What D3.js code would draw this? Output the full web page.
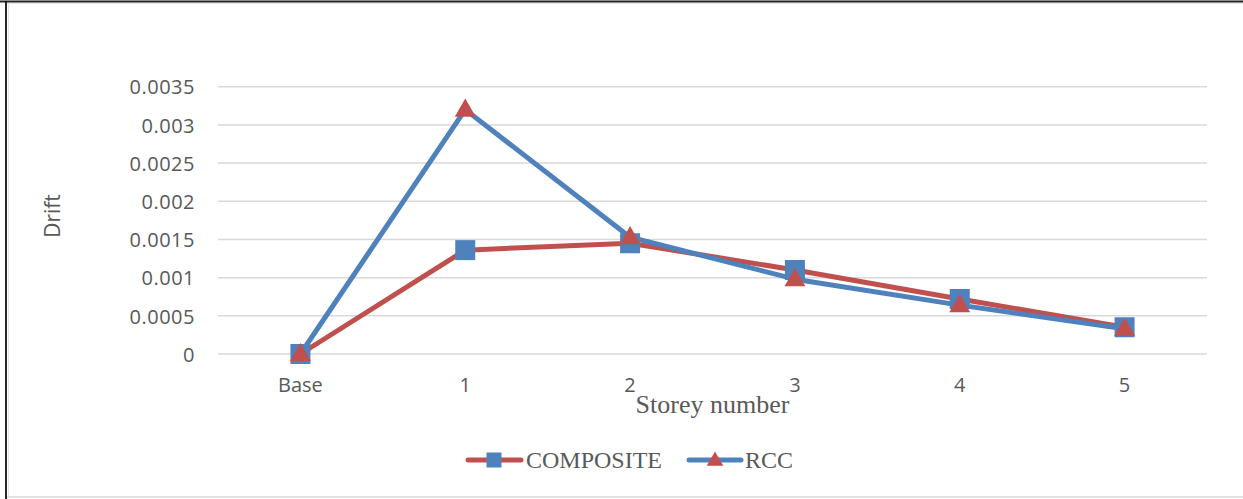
<!DOCTYPE html>
<html><head><meta charset="utf-8">
<script src="https://cdn.jsdelivr.net/npm/d3@7"></script>
<style>html,body{margin:0;padding:0;background:#fff;overflow:hidden}</style>
</head><body>
<svg id="c" width="1243" height="499"></svg>
<script>
const categories = ["Base", "1", "2", "3", "4", "5"];
const composite = [0, 0.00136, 0.00145, 0.0011, 0.00072, 0.00035];
const rcc = [0, 0.0032, 0.00153, 0.00098, 0.00064, 0.00033];
const yTicks = [0, 0.0005, 0.001, 0.0015, 0.002, 0.0025, 0.003, 0.0035];
const yTickLabels = ["0", "0.0005", "0.001", "0.0015", "0.002", "0.0025", "0.003", "0.0035"];
const seriesNames = ["COMPOSITE", "RCC"];

const blue = "#4F81BD", red = "#C0504D", txt = "#595959";
const svg = d3.select("#c");
const W = 1243, H = 499;

// outer frame
svg.append("rect").attr("x", 0).attr("y", 0).attr("width", W).attr("height", H).attr("fill", "#fff");
svg.append("line").attr("x1", 0).attr("x2", W).attr("y1", 1.5).attr("y2", 1.5).attr("stroke", "#222").attr("stroke-width", 2);
svg.append("line").attr("x1", 6).attr("x2", 6).attr("y1", 1).attr("y2", H).attr("stroke", "#111").attr("stroke-width", 1.8);
svg.append("line").attr("x1", 7).attr("x2", W).attr("y1", 497).attr("y2", 497).attr("stroke", "#d9d9d9").attr("stroke-width", 1.5);
svg.append("line").attr("x1", 7).attr("x2", W).attr("y1", 3.5).attr("y2", 3.5).attr("stroke", "#e6e6e6").attr("stroke-width", 1);
svg.append("line").attr("x1", 8.5).attr("x2", 8.5).attr("y1", 3).attr("y2", 497).attr("stroke", "#e6e6e6").attr("stroke-width", 1);

const x = d3.scaleBand().domain(categories).range([218, 1207]);
const y = d3.scaleLinear().domain([0, 0.0035]).range([354, 86.7]);
const cx = c => x(c) + x.bandwidth() / 2;

// gridlines
svg.append("g").selectAll("line").data(yTicks).join("line")
  .attr("x1", 218).attr("x2", 1207)
  .attr("y1", d => y(d)).attr("y2", d => y(d))
  .attr("stroke", "#d9d9d9").attr("stroke-width", 1.5);

// y axis labels
const yAxis = d3.axisLeft(y).tickValues(yTicks).tickFormat((d, i) => yTickLabels[i]).tickSize(0).tickPadding(0);
const gy = svg.append("g").attr("transform", "translate(195,0)").call(yAxis);
gy.select(".domain").remove();
gy.selectAll("text").attr("font-family", "'Open Sans', sans-serif").attr("font-size", 20).attr("letter-spacing", 0.5).attr("fill", txt).attr("dy", "0.36em");

// x axis labels
const xAxis = d3.axisBottom(x).tickSize(0).tickPadding(0);
const gx = svg.append("g").attr("transform", "translate(0,373)").call(xAxis);
gx.select(".domain").remove();
gx.selectAll("text").attr("font-family", "'Open Sans', sans-serif").attr("font-size", 20).attr("fill", txt).attr("dy", "0.95em");

// axis titles
svg.append("text").attr("transform", "translate(60,216) rotate(-90)").attr("text-anchor", "middle")
  .attr("font-family", "'Open Sans', sans-serif").attr("font-size", 21).attr("fill", txt).text("Drift");
svg.append("text").attr("x", 712.5).attr("y", 412.5).attr("text-anchor", "middle")
  .attr("font-family", "'Liberation Serif', 'Times New Roman', serif").attr("font-size", 26).attr("fill", txt).text("Storey number");

// lines
const line = d3.line().x((d, i) => cx(categories[i])).y(d => y(d));
svg.append("path").datum(composite).attr("d", line).attr("fill", "none").attr("stroke", red).attr("stroke-width", 5).attr("stroke-linejoin", "round").attr("stroke-linecap", "round");
svg.append("path").datum(rcc).attr("d", line).attr("fill", "none").attr("stroke", blue).attr("stroke-width", 5).attr("stroke-linejoin", "round").attr("stroke-linecap", "round");

// markers
const sq = 20;
svg.append("g").selectAll("rect").data(composite).join("rect")
  .attr("x", (d, i) => cx(categories[i]) - sq / 2).attr("y", d => y(d) - sq / 2)
  .attr("width", sq).attr("height", sq).attr("fill", blue);
const tri = d3.symbol().type(d3.symbolTriangle).size(190);
svg.append("g").selectAll("path").data(rcc).join("path")
  .attr("d", tri).attr("transform", (d, i) => `translate(${cx(categories[i])},${y(d) + 1})`).attr("fill", red);

// legend
const lg = svg.append("g");
lg.append("line").attr("x1", 468).attr("x2", 521).attr("y1", 460).attr("y2", 460).attr("stroke", red).attr("stroke-width", 5).attr("stroke-linecap", "round");
lg.append("rect").attr("x", 494 - 7.5).attr("y", 460 - 7.5).attr("width", 15).attr("height", 15).attr("fill", blue);
lg.append("text").attr("x", 526).attr("y", 468).attr("font-family", "'Liberation Serif', 'Times New Roman', serif").attr("font-size", 24).attr("fill", txt).text(seriesNames[0]);
lg.append("line").attr("x1", 689).attr("x2", 741).attr("y1", 460).attr("y2", 460).attr("stroke", blue).attr("stroke-width", 5).attr("stroke-linecap", "round");
lg.append("path").attr("d", d3.symbol().type(d3.symbolTriangle).size(120)).attr("transform", "translate(715,461)").attr("fill", red);
lg.append("text").attr("x", 745).attr("y", 468).attr("font-family", "'Liberation Serif', 'Times New Roman', serif").attr("font-size", 24).attr("fill", txt).text(seriesNames[1]);
</script>
</body></html>
